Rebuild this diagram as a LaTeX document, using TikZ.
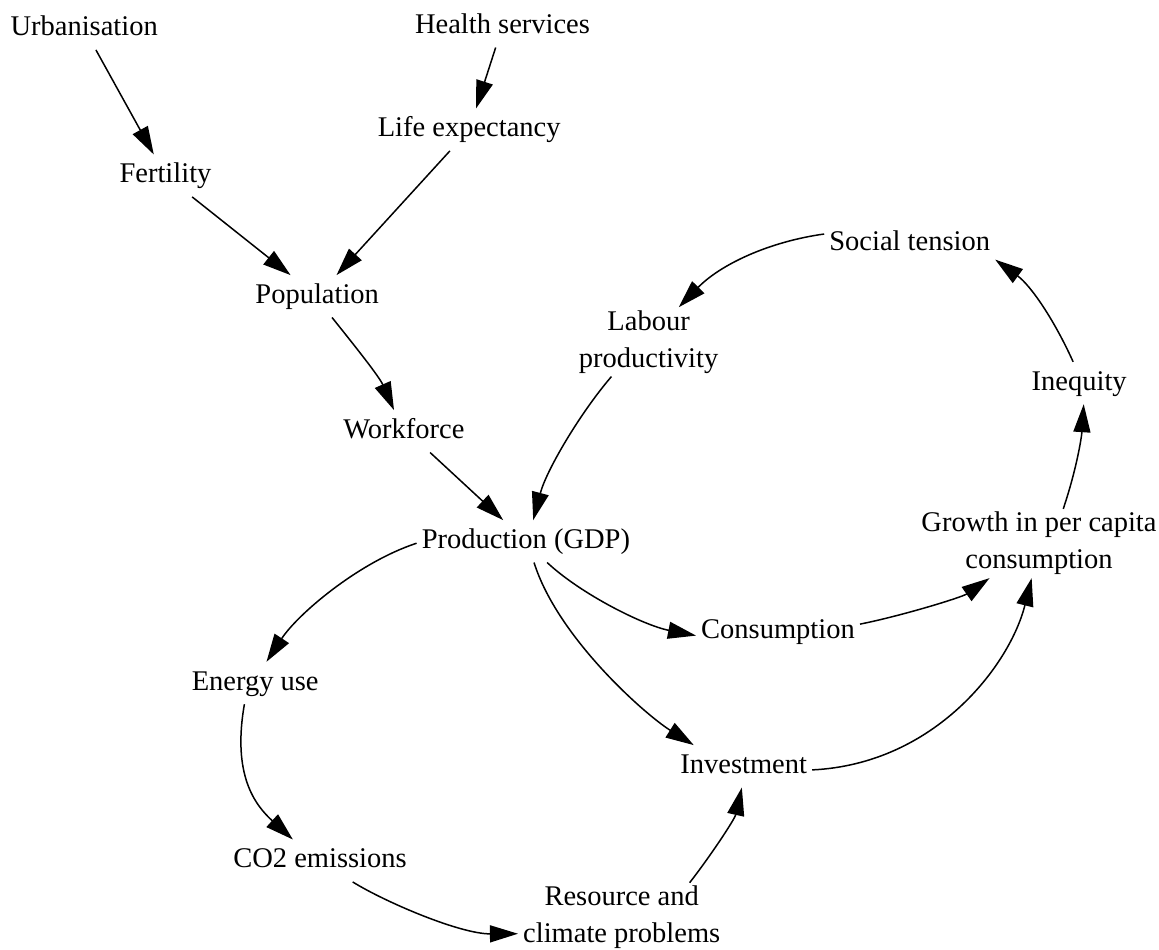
\documentclass[tikz,border=0pt]{standalone}
\usepackage{fontspec}
\setmainfont{Liberation Serif}
\usetikzlibrary{arrows.meta}

\tikzset{
  lbl/.style={font=\fontsize{28.5}{37}\selectfont, inner xsep=5pt, inner ysep=8pt,
              text height=20pt, text depth=6pt, anchor=base},
  lbltwo/.style={font=\fontsize{28.5}{37}\selectfont, align=center,
              inner xsep=5pt, inner ysep=3pt, anchor=center},
  arr/.style={-{Triangle[length=28pt,width=17pt]}, line width=1.5pt}
}

\begin{document}
\begin{tikzpicture}[x=1pt,y=-1pt]
\useasboundingbox (0,0) rectangle (1159,950);

% variables
\node[lbl] (urb) at (84.2,35.7) {Urbanisation};
\node[lbl] (hs) at (502.5,33.3) {Health services};
\node[lbl] (le) at (469.2,136.7) {Life expectancy};
\node[lbl] (fert) at (165.5,182.7) {Fertility};
\node[lbl] (st) at (909.7,250) {Social tension};
\node[lbl] (pop) at (317.2,303.3) {Population};
\node[lbltwo] (lab) at (648.6,341.9) {Labour\\productivity};
\node[lbl] (ineq) at (1079.2,390) {Inequity};
\node[lbl] (work) at (403.9,438.3) {Workforce};
\node[lbl] (prod) at (525.9,548.3) {Production (GDP)};
\node[lbltwo] (grow) at (1039,543.5) {Growth in per capita\\consumption};
\node[lbl] (cons) at (778,638.3) {Consumption};
\node[lbl] (energy) at (255.2,690) {Energy use};
\node[lbl] (inv) at (743.7,773.3) {Investment};
\node[lbl] (co2) at (320,867.7) {CO2 emissions};
\node[lbltwo] (res) at (621.7,917.3) {Resource and\\climate problems};

% causal links
\draw[arr] (urb) -- (fert);
\draw[arr] (hs) -- (le);
\draw[arr] (fert) -- (pop);
\draw[arr] (le) -- (pop);
\draw[arr] (pop.-55) .. controls (350,340) and (379,376) .. (work.115);
\draw[arr] (work.-39) -- (prod.137);
\draw[arr] (lab.-137) .. controls (580.7,412.3) and (546.5,469.8) .. (prod.71);
\draw[arr] (st.174) .. controls (768.9,241.7) and (720.6,264.4) .. (lab.49);
\draw[arr] (ineq.106) .. controls (1053.8,319) and (1030.5,285.3) .. (st.-11);
\draw[arr] (grow.55) .. controls (1077,467.8) and (1081.6,436.7) .. (ineq.-78);
\draw[arr] (prod.181) .. controls (358,562.5) and (297.5,614.4) .. (energy.62);
\draw[arr] (energy.-117) .. controls (232,775) and (255,805) .. (co2.142);
\draw[arr] (co2.-33) .. controls (385,902) and (460,934) .. (res.-171);
\draw[arr] (res.27) .. controls (710.4,856) and (734.7,819.3) .. (inv.-95);
\draw[arr] (prod.-45) .. controls (581.7,594.8) and (644.4,625.6) .. (cons.-177);
\draw[arr] (prod.-69) .. controls (557.3,637) and (644.5,714.1) .. (inv.157);
\draw[arr] (cons.5) .. controls (900.8,616) and (961.8,597.4) .. (grow.-145);
\draw[arr] (inv.-3) .. controls (935,764) and (1010,665) .. (grow.-102);
\end{tikzpicture}
\end{document}
